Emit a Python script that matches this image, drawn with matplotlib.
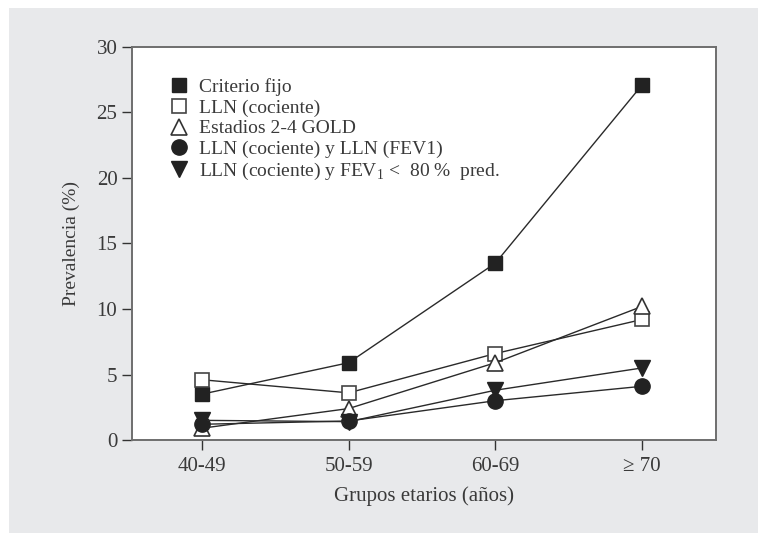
import matplotlib
matplotlib.use("Agg")
import matplotlib.pyplot as plt
from matplotlib.lines import Line2D
from matplotlib.patches import Rectangle

plt.rcParams['font.family'] = ['Liberation Serif', 'DejaVu Serif']
plt.rcParams['mathtext.fontset'] = 'custom'
plt.rcParams['mathtext.rm'] = 'Liberation Serif'

# Age groups and prevalence (%) per spirometric criterion
groups = ['40-49', '50-59', '60-69', '≥ 70']
criterio_fijo = [3.5, 5.9, 13.5, 27.1]
lln_cociente = [4.6, 3.6, 6.6, 9.2]
gold_2_4 = [0.9, 2.4, 5.9, 10.2]
lln_cociente_fev1 = [1.2, 1.45, 3.0, 4.1]
lln_cociente_fev1_80 = [1.5, 1.4, 3.8, 5.5]

labels = ['Criterio fijo', 'LLN (cociente)', 'Estadios 2-4 GOLD',
          'LLN (cociente) y LLN (FEV1)',
          'LLN (cociente) y FEV$_{\\mathrm{1}}$ <  80 %  pred.']

dark = '#222222'
line_c = '#2a2a2a'
text_c = '#3a3a3a'

fig = plt.figure(figsize=(7.58, 5.33), dpi=100, facecolor='white')
fig.patches.append(Rectangle((9 / 758, 0), 1 - 9 / 758, 1 - 8 / 533,
                             transform=fig.transFigure, facecolor='#e8e9eb',
                             edgecolor='none', zorder=-10))

ax = fig.add_axes([132 / 758, 93 / 533, 584 / 758, 393 / 533])
ax.set_facecolor('white')

x = list(range(len(groups)))
styles = [
    (criterio_fijo, dict(marker='s', mfc=dark, mec=dark, ms=10)),
    (lln_cociente, dict(marker='s', mfc='white', mec='#444444', ms=10, mew=1.2)),
    (gold_2_4, dict(marker='^', mfc='white', mec='#333333', ms=11, mew=1.2)),
    (lln_cociente_fev1, dict(marker='o', mfc=dark, mec=dark, ms=11)),
    (lln_cociente_fev1_80, dict(marker='v', mfc=dark, mec=dark, ms=11)),
]
handles = []
for (vals, st), lab in zip(styles, labels):
    ax.plot(x, vals, color=line_c, lw=1.0, **st)
    handles.append(Line2D([], [], linestyle='none', label=lab, **st))

ax.set_xlim(-0.477, 3.504)
ax.set_ylim(0, 30)
ax.set_xticks(x)
ax.set_xticklabels(groups)
ax.set_yticks([0, 5, 10, 15, 20, 25, 30])

for s in ax.spines.values():
    s.set_color('#6e6e6e')
    s.set_linewidth(1.4)
ax.tick_params(axis='both', direction='out', length=7.5, width=1.0,
               color='#333333', labelcolor=text_c, labelsize=15)
ax.tick_params(axis='x', pad=5)
ax.tick_params(axis='y', pad=3)

ax.set_xlabel('Grupos etarios (años)', fontsize=15, color=text_c, labelpad=7)
ax.set_ylabel('Prevalencia (%)', fontsize=14, color=text_c, labelpad=12)

ax.legend(handles=handles, loc='upper left', bbox_to_anchor=(0.05, 0.94),
          frameon=False, fontsize=14, labelcolor=text_c, handlelength=1.0,
          handletextpad=0.55, labelspacing=0.15, borderaxespad=0)

fig.savefig('out.png', dpi=100, facecolor=fig.get_facecolor())
